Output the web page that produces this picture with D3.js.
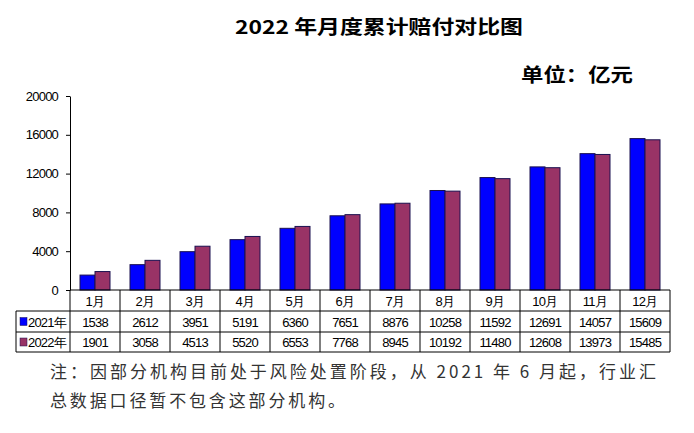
<!DOCTYPE html>
<html>
<head>
<meta charset="utf-8">
<script src="https://cdn.jsdelivr.net/npm/d3@7/dist/d3.min.js"></script>
<style>
  body { margin: 0; background: #fff; }
  svg { display: block; }
</style>
</head>
<body>
<svg id="chart" width="694" height="433"></svg>
<script>
// data
var months = ['1月', '2月', '3月', '4月', '5月', '6月', '7月', '8月', '9月', '10月', '11月', '12月'];
var seriesNames = ['2021年', '2022年'];
var values2021 = [1538, 2612, 3951, 5191, 6360, 7651, 8876, 10258, 11592, 12691, 14057, 15609];
var values2022 = [1901, 3058, 4513, 5520, 6553, 7768, 8945, 10192, 11480, 12608, 13973, 15485];
var yTicks = [0, 4000, 8000, 12000, 16000, 20000];

var titleText = '2022 年月度累计赔付对比图';
var unitText = '单位：亿元';
var noteLines = ['注：因部分机构目前处于风险处置阶段，从 2021 年 6 月起，行业汇',
                 '总数据口径暂不包含这部分机构。'];

var colors = ['#0000ff', '#993366'];
var cjk = '"Noto Sans CJK SC", sans-serif';
var latin = '"Liberation Sans", Arial, sans-serif';

var svg = d3.select('#chart');

// layout (note: don't call these top/left etc, window.top is read-only)
var plotLeft = 70, plotRight = 670, plotTop = 96, plotBottom = 290;
var rowH = [21, 21, 20];       // month row, 2021 row, 2022 row
var legendLeft = 16;

var x = d3.scaleBand().domain(months).range([plotLeft, plotRight]).padding(0);
var x1 = d3.scaleBand().domain(seriesNames).range([10, 40]).padding(0);
var y = d3.scaleLinear().domain([0, 20000]).range([plotBottom, plotTop]);

var series = [values2021, values2022];

// bars
series.forEach(function(vals, si) {
  svg.append('g')
    .selectAll('rect')
    .data(vals)
    .enter()
    .append('rect')
    .attr('x', function(d, i) { return x(months[i]) + x1(seriesNames[si]); })
    .attr('y', function(d) { return y(d); })
    .attr('width', x1.bandwidth())
    .attr('height', function(d) { return plotBottom - y(d); })
    .style('fill', colors[si])
    .style('stroke', '#1a1050')
    .style('stroke-width', 1);
});

// y axis
var yAxis = svg.append('g')
  .attr('transform', 'translate(' + plotLeft + ',0)')
  .call(d3.axisLeft(y).tickValues(yTicks).tickSize(4).tickSizeOuter(0).tickPadding(8)
    .tickFormat(function(d) { return d; }));
yAxis.select('.domain').style('stroke', '#000');
yAxis.selectAll('line').style('stroke', '#000');
yAxis.selectAll('text')
  .style('font-family', latin)
  .style('font-size', '13px')
  .style('letter-spacing', '-0.8px')
  .style('fill', '#000');

// data table under the plot
var rowY = [plotBottom, plotBottom + rowH[0], plotBottom + rowH[0] + rowH[1], plotBottom + rowH[0] + rowH[1] + rowH[2]];
var grid = svg.append('g').style('stroke', '#000').style('stroke-width', 1);

// horizontal lines
grid.append('line').attr('x1', plotLeft).attr('x2', plotRight).attr('y1', rowY[0]).attr('y2', rowY[0]);
[1, 2, 3].forEach(function(r) {
  grid.append('line').attr('x1', legendLeft).attr('x2', plotRight).attr('y1', rowY[r]).attr('y2', rowY[r]);
});
// vertical lines
months.forEach(function(m) {
  grid.append('line').attr('x1', x(m)).attr('x2', x(m)).attr('y1', rowY[0]).attr('y2', rowY[3]);
});
grid.append('line').attr('x1', plotRight).attr('x2', plotRight).attr('y1', rowY[0]).attr('y2', rowY[3]);
grid.append('line').attr('x1', legendLeft).attr('x2', legendLeft).attr('y1', rowY[1]).attr('y2', rowY[3]);

// month labels
svg.append('g')
  .selectAll('text')
  .data(months)
  .enter()
  .append('text')
  .attr('x', function(d) { return x(d) + x.bandwidth() / 2; })
  .attr('y', rowY[0] + rowH[0] / 2 + 5)
  .attr('text-anchor', 'middle')
  .style('font-family', latin)
  .style('font-size', '13px')
  .style('letter-spacing', '-0.6px')
  .text(function(d) { return d; });

// value rows
series.forEach(function(vals, si) {
  var cy = rowY[si + 1] + rowH[si + 1] / 2 + 5;
  svg.append('g')
    .selectAll('text')
    .data(vals)
    .enter()
    .append('text')
    .attr('x', function(d, i) { return x(months[i]) + x.bandwidth() / 2; })
    .attr('y', cy)
    .attr('text-anchor', 'middle')
    .style('font-family', latin)
    .style('font-size', '13px')
    .style('letter-spacing', '-0.8px')
    .text(function(d) { return d; });

  // legend key
  svg.append('rect')
    .attr('x', legendLeft + 4)
    .attr('y', cy - 9)
    .attr('width', 7)
    .attr('height', 8)
    .style('fill', colors[si])
    .style('stroke', '#1a1050')
    .style('stroke-width', 0.5);
  svg.append('text')
    .attr('x', legendLeft + 12)
    .attr('y', cy)
    .style('font-family', latin)
    .style('font-size', '13px')
    .style('letter-spacing', '-0.8px')
    .text(seriesNames[si]);
});

// title and unit
svg.append('text')
  .attr('x', 379)
  .attr('y', 34)
  .attr('text-anchor', 'middle')
  .attr('textLength', 288)
  .attr('lengthAdjust', 'spacingAndGlyphs')
  .style('font-family', cjk)
  .style('font-size', '19px')
  .style('font-weight', 'bold')
  .text(titleText);

svg.append('text')
  .attr('x', 521)
  .attr('y', 82)
  .attr('textLength', 112)
  .attr('lengthAdjust', 'spacingAndGlyphs')
  .style('font-family', cjk)
  .style('font-size', '19px')
  .style('font-weight', 'bold')
  .text(unitText);

// footnote
var noteWidths = [606, 295];
noteLines.forEach(function(line, i) {
  svg.append('text')
    .attr('x', 50)
    .attr('y', 378 + i * 29)
    .attr('textLength', noteWidths[i])
    .attr('lengthAdjust', 'spacing')
    .style('font-family', cjk)
    .style('font-size', '17px')
    .style('fill', '#333')
    .text(line);
});
</script>
</body>
</html>
